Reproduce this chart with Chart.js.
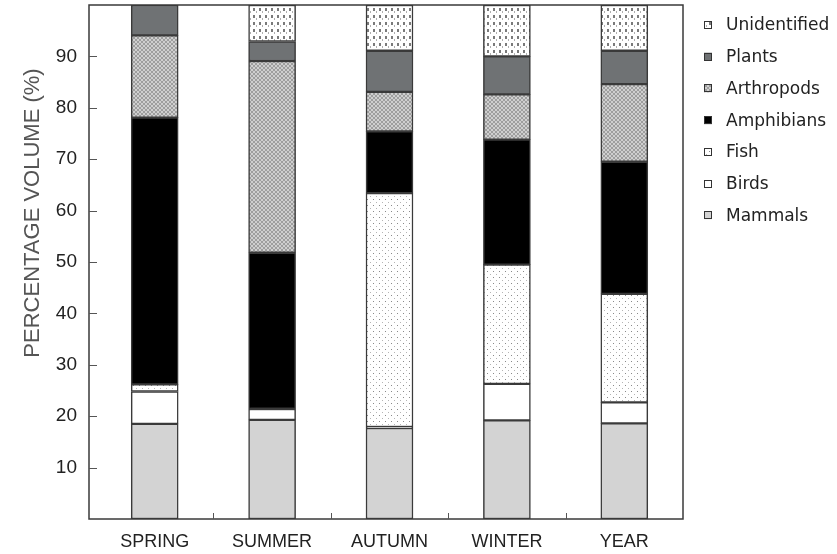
<!DOCTYPE html>
<html>
<head>
<meta charset="utf-8">
<script src="https://cdn.jsdelivr.net/npm/chart.js@4/dist/chart.umd.min.js"></script>
<style>
  html, body { margin: 0; padding: 0; background: #fff; }
  #wrap { width: 837px; height: 554px; }
</style>
</head>
<body>
<div id="wrap"><canvas id="dietChart" width="837" height="554"></canvas></div>
<script>
  // Values (percentage volume, stacked bottom-up)
  const categories = ['SPRING', 'SUMMER', 'AUTUMN', 'WINTER', 'YEAR'];
  const mammals      = [18.5, 19.3, 17.7, 19.2, 18.6];
  const birds        = [6.3, 2.1, 0.2, 7.1, 4.1];
  const fish         = [1.4, 0, 45.5, 23.2, 21.1];
  const amphibians   = [51.9, 30.4, 12.0, 24.3, 25.7];
  const arthropods   = [16.0, 37.3, 7.7, 8.8, 15.1];
  const plants       = [5.9, 3.8, 8.0, 7.4, 6.5];
  const unidentified = [0, 7.1, 8.9, 10.0, 8.9];
  const yTicks = [10, 20, 30, 40, 50, 60, 70, 80, 90];

  // small tile patterns
  function makePattern(size, draw) {
    const c = document.createElement('canvas');
    c.width = size[0]; c.height = size[1];
    const g = c.getContext('2d');
    draw(g);
    return g.createPattern(c, 'repeat');
  }
  const ctx = document.getElementById('dietChart').getContext('2d');

  const fishFill = makePattern([6, 6], g => {
    g.fillStyle = '#fff'; g.fillRect(0, 0, 6, 6);
    g.fillStyle = '#8a8a8a';
    g.fillRect(1, 1, 1, 1);
    g.fillStyle = '#b5b5b5';
    g.fillRect(4, 4, 1, 1);
  });
  const unidFill = makePattern([6, 7], g => {
    g.fillStyle = '#fff'; g.fillRect(0, 0, 6, 7);
    g.fillStyle = '#7a7a7a';
    g.fillRect(1, 1, 2, 3);
    g.fillStyle = '#b0b0b0';
    g.fillRect(4, 4, 1, 2);
  });
  const arthFill = makePattern([4, 4], g => {
    g.fillStyle = '#cfcfcf'; g.fillRect(0, 0, 4, 4);
    g.fillStyle = '#9e9e9e';
    for (let i = 0; i < 4; i++) {
      g.fillRect(i, i, 1, 1);
      g.fillRect(3 - i, i, 1, 1);
    }
  });

  const series = [
    { label: 'Mammals', data: mammals, backgroundColor: '#d3d3d3' },
    { label: 'Birds', data: birds, backgroundColor: '#ffffff' },
    { label: 'Fish', data: fish, backgroundColor: fishFill },
    { label: 'Amphibians', data: amphibians, backgroundColor: '#000000' },
    { label: 'Arthropods', data: arthropods, backgroundColor: arthFill },
    { label: 'Plants', data: plants, backgroundColor: '#6f7274' },
    { label: 'Unidentified', data: unidentified, backgroundColor: unidFill }
  ];

  // frame, inward ticks, y title and legend
  const decorations = {
    id: 'decorations',
    afterDatasetsDraw(chart) {
      const c = chart.ctx;
      const a = chart.chartArea;
      const xs = chart.scales.x, ys = chart.scales.y;
      const frameLeft = a.left - 7;
      c.save();
      c.strokeStyle = '#3a3a3a';
      c.lineWidth = 1.5;
      c.strokeRect(frameLeft, a.top, a.right - frameLeft, a.bottom - a.top);

      c.lineWidth = 1;
      c.strokeStyle = '#555';
      c.beginPath();
      yTicks.forEach(v => {
        const y = Math.round(ys.getPixelForValue(v)) + 0.5;
        c.moveTo(frameLeft, y); c.lineTo(frameLeft + 8, y);
      });
      for (let i = 0; i < categories.length - 1; i++) {
        const x = Math.round((xs.getPixelForValue(i) + xs.getPixelForValue(i + 1)) / 2) + 0.5;
        c.moveTo(x, a.bottom); c.lineTo(x, a.bottom - 6);
      }
      c.stroke();

      // y axis title
      c.translate(33, 213);
      c.rotate(-Math.PI / 2);
      c.fillStyle = '#555';
      c.font = '22px "Liberation Sans", Arial, sans-serif';
      c.textAlign = 'center';
      c.textBaseline = 'middle';
      c.fillText('PERCENTAGE VOLUME (%)', 0, 0);
      c.restore();

      // legend (top item = last dataset)
      c.save();
      c.font = '17px "DejaVu Sans", sans-serif';
      c.textBaseline = 'middle';
      const items = chart.data.datasets.slice().reverse();
      items.forEach((ds, i) => {
        const y = 25 + i * 31.7;
        c.fillStyle = ds.backgroundColor;
        c.fillRect(704, y - 4, 8, 8);
        c.strokeStyle = '#333';
        c.lineWidth = 1;
        c.strokeRect(704.5, Math.round(y - 4) + 0.5, 7, 7);
        c.fillStyle = '#222';
        c.fillText(ds.label, 726, y + 1);
      });
      c.restore();
    }
  };

  const config = {
    type: 'bar',
    data: {
      labels: categories,
      datasets: series.map(s => ({
        ...s,
        borderColor: '#3a3a3a',
        borderWidth: 1.5,
        borderSkipped: false,
        barThickness: 47
      }))
    },
    options: {
      responsive: false,
      animation: false,
      layout: { padding: { top: 5, right: 154, left: 0, bottom: 0 } },
      plugins: {
        legend: { display: false },
        tooltip: { enabled: false }
      },
      scales: {
        x: {
          stacked: true,
          grid: { display: false, drawTicks: false },
          border: { display: false },
          ticks: {
            color: '#222',
            padding: 12,
            font: { family: '"Liberation Sans", Arial, sans-serif', size: 18 }
          },
          afterFit: s => { s.height = 35; s.paddingLeft = 0; s.paddingRight = 0; }
        },
        y: {
          stacked: true,
          min: 0,
          max: 100,
          grid: { display: false, drawTicks: false },
          border: { display: false },
          afterBuildTicks: s => { s.ticks = yTicks.map(v => ({ value: v })); },
          ticks: {
            color: '#222',
            padding: 19,
            font: { family: '"Liberation Sans", Arial, sans-serif', size: 19 }
          },
          afterFit: s => { s.width = 96; s.paddingTop = 0; s.paddingBottom = 0; }
        }
      }
    },
    plugins: [decorations]
  };

  new Chart(ctx, config);
</script>
</body>
</html>
